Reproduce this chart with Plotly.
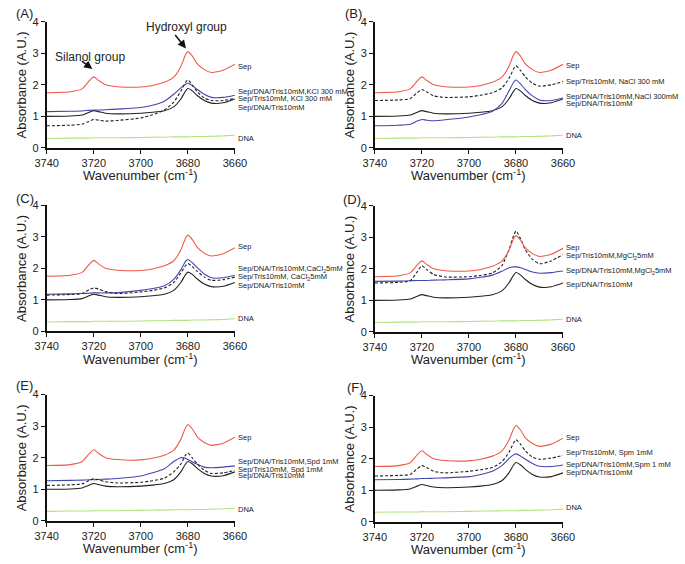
import plotly.graph_objects as go

# Wavenumber grid (cm^-1)
WN = [3740, 3730, 3725, 3722, 3720, 3718, 3715, 3710, 3700, 3695, 3690,
      3686, 3683, 3681, 3680, 3678, 3676, 3673, 3670, 3665, 3660]

# Shared curves
SEP = [1.75, 1.78, 1.87, 2.12, 2.25, 2.14, 2.00, 1.94, 1.93, 1.98, 2.08,
       2.24, 2.58, 2.95, 3.05, 2.90, 2.66, 2.48, 2.39, 2.46, 2.65]
SEP_DNA_TRIS = [1.00, 1.01, 1.04, 1.13, 1.18, 1.15, 1.10, 1.08, 1.10, 1.13, 1.18,
                1.30, 1.55, 1.80, 1.88, 1.80, 1.66, 1.50, 1.42, 1.43, 1.55]
DNA = [0.30, 0.31, 0.31, 0.31, 0.32, 0.32, 0.32, 0.32, 0.33, 0.34, 0.34,
       0.35, 0.35, 0.35, 0.35, 0.36, 0.36, 0.36, 0.37, 0.38, 0.40]

# Panel A (KCl 300 mM)
A_BLUE = [1.15, 1.16, 1.17, 1.19, 1.20, 1.20, 1.21, 1.23, 1.28, 1.35, 1.48,
          1.70, 1.90, 2.02, 2.05, 1.97, 1.85, 1.70, 1.60, 1.60, 1.67]
A_DASH = [0.70, 0.72, 0.75, 0.84, 0.90, 0.88, 0.85, 0.87, 0.95, 1.05, 1.20,
          1.45, 1.80, 2.08, 2.15, 1.98, 1.78, 1.58, 1.50, 1.50, 1.57]
# Panel B (NaCl 300 mM)
B_DASH = [1.50, 1.52, 1.56, 1.75, 1.85, 1.78, 1.65, 1.60, 1.62, 1.67, 1.75,
          1.90, 2.20, 2.50, 2.60, 2.45, 2.25, 2.05, 1.96, 2.00, 2.10]
B_BLUE = [0.70, 0.72, 0.75, 0.85, 0.90, 0.88, 0.86, 0.89, 0.98, 1.05, 1.16,
          1.40, 1.80, 2.08, 2.15, 2.02, 1.85, 1.65, 1.52, 1.50, 1.58]
# Panel C (CaCl2 5 mM)
C_BLUE = [1.18, 1.19, 1.20, 1.21, 1.22, 1.22, 1.22, 1.23, 1.30, 1.36, 1.45,
          1.65, 1.95, 2.22, 2.28, 2.17, 2.02, 1.82, 1.70, 1.70, 1.78]
C_DASH = [1.15, 1.17, 1.20, 1.32, 1.38, 1.34, 1.26, 1.20, 1.25, 1.30, 1.38,
          1.55, 1.85, 2.08, 2.15, 2.05, 1.90, 1.72, 1.62, 1.64, 1.72]
# Panel D (MgCl2 5 mM)
D_DASH = [1.55, 1.57, 1.62, 1.90, 2.10, 1.98, 1.82, 1.74, 1.75, 1.79, 1.87,
          2.10, 2.60, 3.05, 3.20, 2.95, 2.60, 2.30, 2.16, 2.25, 2.45]
D_BLUE = [1.60, 1.61, 1.62, 1.63, 1.63, 1.63, 1.64, 1.65, 1.68, 1.73, 1.80,
          1.92, 2.03, 2.06, 2.06, 2.03, 1.98, 1.90, 1.86, 1.88, 1.93]
# Panel E (Spd 1 mM)
E_BLUE = [1.27, 1.28, 1.29, 1.30, 1.30, 1.31, 1.32, 1.34, 1.42, 1.52, 1.65,
          1.88, 2.00, 1.98, 1.94, 1.86, 1.79, 1.70, 1.68, 1.70, 1.74]
E_DASH = [1.12, 1.14, 1.17, 1.28, 1.33, 1.30, 1.24, 1.20, 1.22, 1.27, 1.35,
          1.55, 1.80, 2.08, 2.15, 1.98, 1.80, 1.60, 1.50, 1.52, 1.60]
# Panel F (Spm 1 mM)
F_DASH = [1.45, 1.47, 1.50, 1.68, 1.78, 1.72, 1.60, 1.55, 1.60, 1.65, 1.72,
          1.90, 2.20, 2.50, 2.60, 2.45, 2.25, 2.05, 1.98, 2.02, 2.10]
F_BLUE = [1.33, 1.34, 1.35, 1.36, 1.37, 1.37, 1.38, 1.39, 1.43, 1.50, 1.60,
          1.78, 2.00, 2.12, 2.15, 2.08, 1.98, 1.85, 1.76, 1.75, 1.80]

PANELS = [
    ("(A)", A_BLUE, A_DASH,
     ["Sep", "Sep/DNA/Tris10mM,KCl 300 mM", "Sep/Tris10mM, KCl 300 mM", "Sep/DNA/Tris10mM", "DNA"],
     [2.57, 1.80, 1.55, 1.27, 0.30]),
    ("(B)", B_BLUE, B_DASH,
     ["Sep", "Sep/Tris10mM, NaCl 300 mM", "Sep/DNA/Tris10mM,NaCl 300mM", "Sep/DNA/Tris10mM", "DNA"],
     [2.60, 2.10, 1.64, 1.40, 0.40]),
    ("(C)", C_BLUE, C_DASH,
     ["Sep", "Sep/DNA/Tris10mM,CaCl<sub>2</sub>5mM", "Sep/Tris10mM, CaCl<sub>2</sub>5mM", "Sep/DNA/Tris10mM", "DNA"],
     [2.69, 1.99, 1.71, 1.45, 0.41]),
    ("(D)", D_BLUE, D_DASH,
     ["Sep", "Sep/Tris10mM,MgCl<sub>2</sub>5mM", "Sep/DNA/Tris10mM,MgCl<sub>2</sub>5mM", "Sep/DNA/Tris10mM", "DNA"],
     [2.69, 2.42, 1.92, 1.51, 0.38]),
    ("(E)", E_BLUE, E_DASH,
     ["Sep", "Sep/DNA/Tris10mM,Spd 1mM", "Sep/Tris10mM, Spd 1mM", "Sep/DNA/Tris10mM", "DNA"],
     [2.64, 1.89, 1.64, 1.42, 0.37]),
    ("(F)", F_BLUE, F_DASH,
     ["Sep", "Sep/Tris10mM, Spm 1mM", "Sep/DNA/Tris10mM,Spm 1 mM", "Sep/DNA/Tris10mM", "DNA"],
     [2.68, 2.20, 1.81, 1.55, 0.46]),
]

W, H = 685, 564
RED, BLUE, GREEN, BLACK = "#ef5a48", "#4346b0", "#b3e37e", "#222222"
FONT = "Liberation Sans, Arial, sans-serif"

# pixel layout of plot areas: (left, right, top, bottom)
BOXES = [(36, 231, 16, 145), (376, 571, 16, 145),
         (36, 231, 203.5, 332.5), (376, 571, 204, 333),
         (36, 231, 397, 526), (376, 571, 398, 527)]
LETTER_POS = [(2, 8), (343, 8), (2, 197), (341, 198), (2, 388), (345, 390)]

fig = go.Figure()
annotations = []
for i, (letter, blue, dash, labels, label_y) in enumerate(PANELS):
    n = "" if i == 0 else str(i + 1)
    xa, ya = "x" + n, "y" + n
    l, r, t, b = BOXES[i]
    line_style = dict(width=1.1, shape="spline", smoothing=0.6)
    fig.add_trace(go.Scatter(x=WN, y=DNA, mode="lines", line=dict(color=GREEN, **line_style), xaxis=xa, yaxis=ya))
    fig.add_trace(go.Scatter(x=WN, y=SEP_DNA_TRIS, mode="lines", line=dict(color=BLACK, **line_style), xaxis=xa, yaxis=ya))
    fig.add_trace(go.Scatter(x=WN, y=blue, mode="lines", line=dict(color=BLUE, **line_style), xaxis=xa, yaxis=ya))
    fig.add_trace(go.Scatter(x=WN, y=dash, mode="lines", line=dict(color=BLACK, dash="3px,2px", **line_style), xaxis=xa, yaxis=ya))
    fig.add_trace(go.Scatter(x=WN, y=SEP, mode="lines", line=dict(color=RED, **line_style), xaxis=xa, yaxis=ya))

    axis_common = dict(showline=True, linecolor="#111111", linewidth=1.6, ticks="outside",
                       ticklen=4, tickwidth=1.4, tickcolor="#111111", showgrid=False,
                       zeroline=False, tickfont=dict(family=FONT, size=11, color="#222222"))
    fig.layout["xaxis" + n] = dict(domain=[l / W, r / W], anchor=ya, range=[3740, 3660],
                                   tickvals=[3740, 3720, 3700, 3680, 3660], **axis_common)
    fig.layout["yaxis" + n] = dict(domain=[1 - b / H, 1 - t / H], anchor=xa, range=[0, 4],
                                   tickvals=[0, 1, 2, 3, 4], **axis_common)

    for txt, yv in zip(labels, label_y):
        annotations.append(dict(x=3660, y=yv, xref=xa, yref=ya, text=txt, showarrow=False,
                                xanchor="left", yanchor="middle", xshift=1,
                                font=dict(family=FONT, size=7.5, color="#222222")))
    lx, ly = LETTER_POS[i]
    annotations.append(dict(x=lx / W, y=1 - ly / H, xref="paper", yref="paper", text=letter,
                            showarrow=False, xanchor="left", yanchor="middle",
                            font=dict(family=FONT, size=13, color="#222222")))
    # axis titles
    annotations.append(dict(x=(l - 26) / W, y=1 - (t + b) / 2 / H, xref="paper", yref="paper",
                            text="Absorbance (A.U.)", textangle=-90, showarrow=False,
                            xanchor="center", yanchor="middle",
                            font=dict(family=FONT, size=13, color="#222222")))
    annotations.append(dict(x=(l + r) / 2 / W, y=1 - (b + 28) / H, xref="paper", yref="paper",
                            text="Wavenumber (cm<sup>-1</sup>)", showarrow=False,
                            xanchor="center", yanchor="middle",
                            font=dict(family=FONT, size=13, color="#222222")))

# Panel A peak annotations
annotations.append(dict(x=3720.6, y=2.5, xref="x", yref="y", text="", showarrow=True,
                        arrowhead=2, arrowsize=1.1, arrowwidth=1.5, arrowcolor="#111111",
                        ax=-12, ay=-9))
annotations.append(dict(x=81 / W, y=1 - 52 / H, xref="paper", yref="paper", text="Silanol group",
                        showarrow=False, xanchor="center", yanchor="middle",
                        font=dict(family=FONT, size=12, color="#222222")))
annotations.append(dict(x=3680.8, y=3.15, xref="x", yref="y", text="", showarrow=True,
                        arrowhead=2, arrowsize=1.1, arrowwidth=1.5, arrowcolor="#111111",
                        ax=-12, ay=-15))
annotations.append(dict(x=181 / W, y=1 - 21 / H, xref="paper", yref="paper", text="Hydroxyl group",
                        showarrow=False, xanchor="center", yanchor="middle",
                        font=dict(family=FONT, size=12, color="#222222")))

fig.update_layout(width=W, height=H, margin=dict(l=0, r=0, t=0, b=0),
                  paper_bgcolor="white", plot_bgcolor="white", showlegend=False,
                  annotations=annotations)
fig.write_html("out.html", config={"displayModeBar": False},
               post_script="document.body.style.margin='0';document.body.style.overflow='hidden';")
